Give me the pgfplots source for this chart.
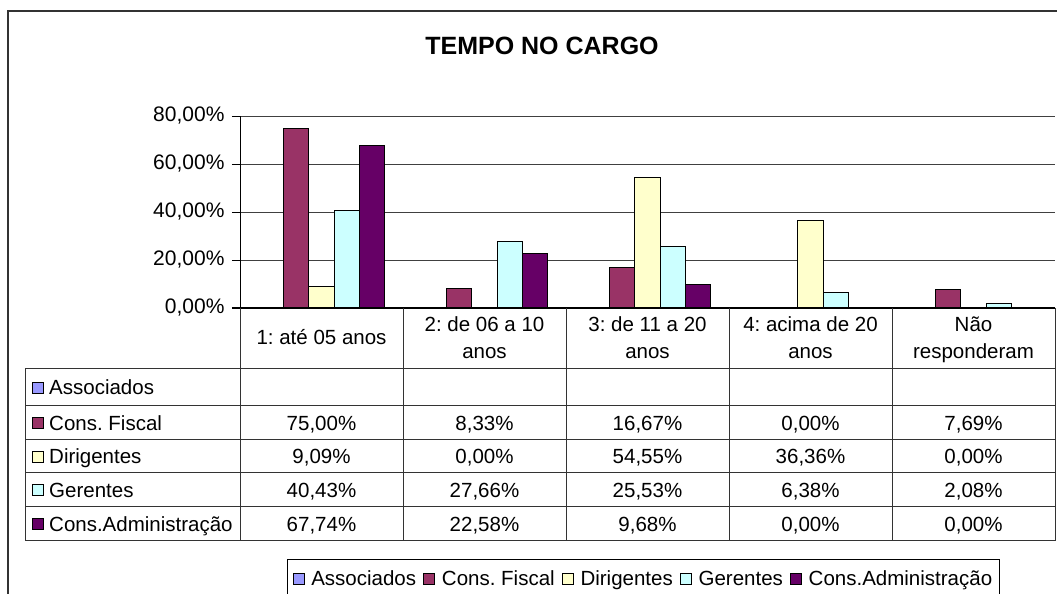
\documentclass[border=0pt]{standalone}
\usepackage{pgfplots}
\pgfplotsset{compat=1.18}
\usepackage{pgfplotstable}
\usepackage{fontspec}
\setmainfont{Liberation Sans}
\frenchspacing
\definecolor{cassoc}{HTML}{9999FF}
\definecolor{cfiscal}{HTML}{993366}
\definecolor{cdirig}{HTML}{FFFFCC}
\definecolor{cgeren}{HTML}{CCFFFF}
\definecolor{cadmin}{HTML}{660066}
\pgfplotstableread{
x fiscal dirig geren admin
0 75.00 9.09 40.43 67.74
1 8.33 0.00 27.66 22.58
2 16.67 54.55 25.53 9.68
3 0.00 36.36 6.38 0.00
4 7.69 0.00 2.08 0.00
}\datatable
\newcommand\fs{\fontsize{20.5}{27}\selectfont\frenchspacing}
\newcommand\fsn{\fontsize{21}{27}\selectfont}
\pgfplotsset{sq/.style={legend image code/.code={\draw[##1,draw=black,line width=0.8pt] (0pt,-5.5pt) rectangle (11pt,5.5pt);}}}
\begin{document}
\begin{tikzpicture}[x=1pt,y=1pt]
\path[use as bounding box] (0,0) rectangle (1057,594);
\draw[line width=2pt, black!80] (8,-20) -- (8,583) -- (1080,583);
\node[font=\fontsize{25}{28}\selectfont\bfseries] at (542,548) {TEMPO NO CARGO};
\begin{axis}[
  at={(240pt,286pt)}, anchor=south west,
  scale only axis, width=815pt, height=192pt,
  xmin=-0.5, xmax=4.5, ymin=0, ymax=80,
  axis x line=bottom, axis y line=left,
  axis line style={-, black, line width=1pt},
  xtick=\empty,
  ytick={0,20,40,60,80},
  ymajorgrids, grid style={black!75, line width=0.8pt},
  tick align=outside, major tick length=8pt, tick style={black, line width=1pt},
  /pgf/number format/assume math mode=true,
  yticklabel={\pgfmathprintnumber[fixed,fixed zerofill,precision=2,use comma]{\tick}\%},
  yticklabel style={font=\fsn, xshift=-4pt},
  ybar, bar width=25.08pt,
  clip=false,
  legend columns=5,
  legend style={at={(axis description cs:0.0577,-1.307)}, anchor=north west,
    draw=black, line width=1pt, font=\fs, inner ysep=9pt, inner xsep=5pt,
    /tikz/every odd column/.append style={column sep=5pt},
    /tikz/every even column/.append style={column sep=5pt}},
]
\addlegendimage{sq, fill=cassoc}
\addlegendentry{Associados}
\addplot[sq, fill=cfiscal, draw=black, line width=1pt, bar shift=-25.08pt] table[x=x, y=fiscal] {\datatable};
\addlegendentry{Cons. Fiscal}
\addplot[sq, fill=cdirig, draw=black, line width=1pt, bar shift=0pt] table[x=x, y=dirig] {\datatable};
\addlegendentry{Dirigentes}
\addplot[sq, fill=cgeren, draw=black, line width=1pt, bar shift=25.08pt] table[x=x, y=geren] {\datatable};
\addlegendentry{Gerentes}
\addplot[sq, fill=cadmin, draw=black, line width=1pt, bar shift=50.16pt] table[x=x, y=admin] {\datatable};
\addlegendentry{Cons.Administração}
\end{axis}
% data table grid
\begin{scope}[black!80, line width=1pt]
\foreach \xx in {240,403,566,729,892,1055} { \draw (\xx,286) -- (\xx,53); }
\foreach \yy in {225,188,154,121,87,53} { \draw (25,\yy) -- (1055,\yy); }
\draw (25,225) -- (25,53);
\end{scope}
% header
\node[font=\fs, anchor=base] at (321.5,249.5) {1: até 05 anos};
\foreach \xx/\la/\lb in {484.5/{2: de 06 a 10}/anos, 647.5/{3: de 11 a 20}/anos, 810.5/{4: acima de 20}/anos, 973.5/{Não}/responderam} {
  \node[font=\fs, anchor=base] at (\xx,262.5) {\la};
  \node[font=\fs, anchor=base] at (\xx,235.5) {\lb};
}
% row labels
\foreach \cc/\yy/\lab in {cassoc/206.5/Associados, cfiscal/171/{Cons. Fiscal}, cdirig/137.5/Dirigentes, cgeren/104/Gerentes, cadmin/70/{Cons.Administração}} {
  \draw[fill=\cc, draw=black, line width=0.8pt] (32,\yy-5.5) rectangle (43,\yy+5.5);
  \node[font=\fs, anchor=base west, inner sep=0pt] at (49,\yy-7.3) {\lab};
}
% values
\foreach \col/\yy in {fiscal/171, dirig/137.5, geren/104, admin/70} {
  \foreach \i in {0,...,4} {
    \pgfplotstablegetelem{\i}{\col}\of\datatable
    \pgfmathsetmacro\xx{321.5+163*\i}
    \node[font=\fs, anchor=base] at (\xx,\yy-7.3) {\pgfmathprintnumber[fixed,fixed zerofill,precision=2,use comma,assume math mode=true]{\pgfplotsretval}\%};
  }
}
\end{tikzpicture}
\end{document}
